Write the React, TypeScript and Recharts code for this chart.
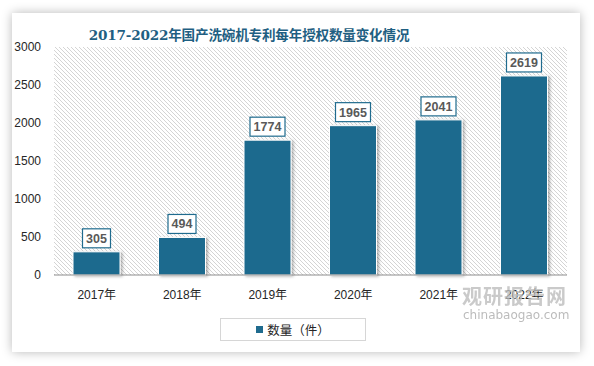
import { BarChart, Bar, XAxis, YAxis, CartesianGrid, LabelList } from "recharts";

const years = ["2017年", "2018年", "2019年", "2020年", "2021年", "2022年"];
const counts = [305, 494, 1774, 1965, 2041, 2619];
const yTicks = [0, 500, 1000, 1500, 2000, 2500, 3000];

const data = years.map((year, i) => ({ year, count: counts[i] }));

const BLUE = "#1f6b8e";
const SANS = "'Liberation Sans', 'Noto Sans CJK SC', sans-serif";

// bar with a white edge and a soft shadow
function ShadowBar(props: any) {
  const { x, y, width, height } = props;
  if (!height) return null;
  return (
    <rect x={x} y={y} width={width} height={height} fill={BLUE}
      stroke="#fff" strokeWidth={1} filter="url(#barShadow)" />
  );
}

// value in a bordered white box over the bar
function BoxLabel(props: any) {
  const { x, y, width, value } = props;
  const text = String(value);
  const w = text.length * 7 + 7;
  const h = 19;
  const cx = x + width / 2;
  return (
    <g>
      <rect x={cx - w / 2} y={y - 4 - h} width={w} height={h} fill="#fff" stroke={BLUE} strokeWidth={1.2} />
      <text x={cx} y={y - 4 - h / 2 + 4.5} textAnchor="middle" fontSize={12.5} fontWeight={700}
        fill="#595959" fontFamily={SANS}>{text}</text>
    </g>
  );
}

export default function App() {
  return (
    <div style={{ position: "fixed", left: 0, top: 0, width: 594, height: 366, background: "#fff", overflow: "hidden" }}>
      <svg width={0} height={0} style={{ position: "absolute" }}>
        <defs>
          <pattern id="hatch" patternUnits="userSpaceOnUse" width={4} height={4}>
            <rect width={4} height={4} fill="#fff" />
            <path d="M-1,-1 L5,5 M3,-1 L5,1 M-1,3 L1,5" stroke="#d4d4d4" strokeWidth={1} />
          </pattern>
          <filter id="barShadow" x="-20%" y="-20%" width="150%" height="150%">
            <feDropShadow dx={2} dy={1} stdDeviation={1.6} floodColor="#000" floodOpacity={0.3} />
          </filter>
        </defs>
      </svg>

      <div style={{
        position: "absolute", left: 12, top: 13, width: 568, height: 339, background: "#fff",
        boxShadow: "0 0 10px rgba(0,0,0,0.28)",
      }} />

      <div style={{
        position: "absolute", left: 0, top: 24, width: 498, textAlign: "center", fontSize: 13.6,
        fontWeight: 700, color: "#1f5f82", fontFamily: "'DejaVu Serif', 'Noto Sans CJK SC', serif",
        letterSpacing: -0.2,
      }}>
        2017-2022年国产洗碗机专利每年授权数量变化情况
      </div>

      <div style={{ position: "absolute", left: 0, top: 0 }}>
        <BarChart width={594} height={366} data={data}
          margin={{ top: 47, right: 27, bottom: 61, left: 0 }}>
          <CartesianGrid horizontal={false} vertical={false} fill="url(#hatch)" />
          <XAxis dataKey="year" height={30} tickLine={false} stroke="#8c8c8c"
            tick={{ fontSize: 12, fill: "#262626", fontFamily: SANS }} tickMargin={9} />
          <YAxis width={54} domain={[0, 3000]} ticks={yTicks} axisLine={false} tickLine={false}
            tickSize={0} tickMargin={13} interval={0}
            tick={{ fontSize: 12, fill: "#262626", fontFamily: SANS }} />
          <Bar dataKey="count" barSize={47} fill={BLUE} shape={ShadowBar} isAnimationActive={false}>
            <LabelList dataKey="count" content={BoxLabel} />
          </Bar>
        </BarChart>
      </div>

      <div style={{
        position: "absolute", left: 220, top: 318, width: 146, height: 23, border: "1px solid #d6d6d6",
        display: "flex", alignItems: "center", justifyContent: "center", fontSize: 12.5,
        fontFamily: SANS, color: "#262626", boxSizing: "border-box",
      }}>
        <span style={{ display: "inline-block", width: 7, height: 7, background: BLUE, marginRight: 4 }} />
        数量（件）
      </div>

      <div style={{
        position: "absolute", left: 462, top: 281, fontSize: 20, fontWeight: 700, color: "#bdbdbd",
        fontFamily: "'Noto Sans CJK SC', sans-serif", opacity: 0.8, letterSpacing: 1,
      }}>观研报告网</div>
      <div style={{
        position: "absolute", left: 463, top: 308, fontSize: 12, color: "#b0b0b0",
        fontFamily: "'DejaVu Sans', sans-serif", opacity: 0.85,
      }}>chinabaogao.com</div>
    </div>
  );
}
